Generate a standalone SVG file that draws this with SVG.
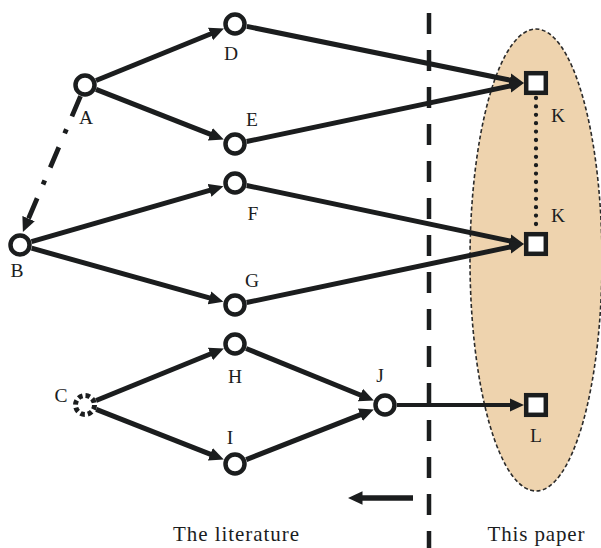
<svg xmlns="http://www.w3.org/2000/svg" width="601" height="548" viewBox="0 0 601 548">
  <style>
    .edge { fill: none; stroke: #1b1d1e; stroke-width: 5; marker-end: url(#head); }
    .node { fill: #ffffff; stroke: #1b1d1e; stroke-width: 4.5; }
    .lbl { font-family: "Liberation Serif", "Times New Roman", serif; font-size: 19.5px; fill: #1b1d1e; text-anchor: middle; }
    .cap { font-family: "Liberation Serif", "Times New Roman", serif; font-size: 21px; fill: #1b1d1e; text-anchor: middle; }
  </style>
  <defs>
    <marker id="head" markerUnits="userSpaceOnUse" markerWidth="15" markerHeight="15" viewBox="0 0 15 15" refX="4.5" refY="7.5" orient="auto">
      <path d="M0,0.8 L14.5,7.5 L0,14.2 z" fill="#1b1d1e"/>
    </marker>
  </defs>

  <rect width="601" height="548" fill="#ffffff"/>

  <!-- region of the present work -->
  <ellipse id="region" cx="536" cy="260" rx="66" ry="231" fill="#eed3ae" stroke="#2a2a2a" stroke-width="1.6" stroke-dasharray="4 2.5"/>

  <!-- divider between the two parts -->
  <line id="divider" x1="429" y1="13" x2="429" y2="548" stroke="#1b1d1e" stroke-width="4.5" stroke-dasharray="21 16"/>

  <g id="connectors">
    <path class="edge" d="M96,80.5 L214.7,32.3"/>
    <path class="edge" d="M96,89.4 L214.5,135.9"/>
    <path class="edge" d="M246.8,26.4 L514.2,81"/>
    <path class="edge" d="M246.7,141.5 L514.2,85.1"/>
    <path class="edge" d="M31.5,241.7 L213.9,189.1"/>
    <path class="edge" d="M31.6,248.2 L213.8,299.1"/>
    <path class="edge" d="M246.7,185.5 L514.2,241.9"/>
    <path class="edge" d="M246.7,302.5 L514.2,246.1"/>
    <path class="edge" d="M96.1,400.5 L214.6,352.3"/>
    <path class="edge" d="M96.2,409.4 L214.5,455.9"/>
    <path class="edge" d="M246.1,348.5 L364.6,396.7"/>
    <path class="edge" d="M246.2,459.6 L364.5,413.1"/>
    <path class="edge" d="M397,405 L514,405" style="stroke-width:3.8"/>
    <!-- dash-dot link A to B -->
    <path class="edge" d="M80.5,96.1 L26.8,222.7" style="stroke-width:4.8;stroke-dasharray:22 14 4.5 15"/>
    <!-- dotted link between the two K nodes -->
    <path d="M536,98 L536,232" fill="none" stroke="#1b1d1e" stroke-width="4.3" stroke-linecap="round" stroke-dasharray="0 8.4"/>
    <!-- direction arrow -->
    <path class="edge" d="M413,498 L358,498" style="stroke-width:5.5"/>
  </g>

  <g id="A"><circle class="node" cx="85" cy="85" r="9.5"/><text class="lbl" x="86" y="124">A</text></g>
  <g id="B"><circle class="node" cx="20" cy="245" r="9.5"/><text class="lbl" x="17" y="277">B</text></g>
  <g id="C"><circle class="node" cx="85" cy="405" r="9.5" style="stroke-width:5;stroke-dasharray:4.5 3"/><text class="lbl" x="61" y="402">C</text></g>
  <g id="D"><circle class="node" cx="235" cy="24" r="9.5"/><text class="lbl" x="231" y="60">D</text></g>
  <g id="E"><circle class="node" cx="235" cy="144" r="9.5"/><text class="lbl" x="252" y="126">E</text></g>
  <g id="F"><circle class="node" cx="235" cy="183" r="9.5"/><text class="lbl" x="253" y="220">F</text></g>
  <g id="G"><circle class="node" cx="235" cy="305" r="9.5"/><text class="lbl" x="252" y="287">G</text></g>
  <g id="H"><circle class="node" cx="235" cy="344" r="9.5"/><text class="lbl" x="235" y="383">H</text></g>
  <g id="I"><circle class="node" cx="235" cy="464" r="9.5"/><text class="lbl" x="230" y="444">I</text></g>
  <g id="J"><circle class="node" cx="385" cy="405" r="9.5"/><text class="lbl" x="380" y="382">J</text></g>
  <g id="K1"><rect class="node" x="526.2" y="73.2" width="19.6" height="19.6"/><text class="lbl" x="558" y="122">K</text></g>
  <g id="K2"><rect class="node" x="526.2" y="234.2" width="19.6" height="19.6"/><text class="lbl" x="558" y="222">K</text></g>
  <g id="L"><rect class="node" x="526.2" y="395.2" width="19.6" height="19.6"/><text class="lbl" x="536" y="442">L</text></g>

  <text class="cap" x="236" y="541" textLength="126" lengthAdjust="spacing">The literature</text>
  <text class="cap" x="536" y="541" textLength="97" lengthAdjust="spacing">This paper</text>
</svg>
